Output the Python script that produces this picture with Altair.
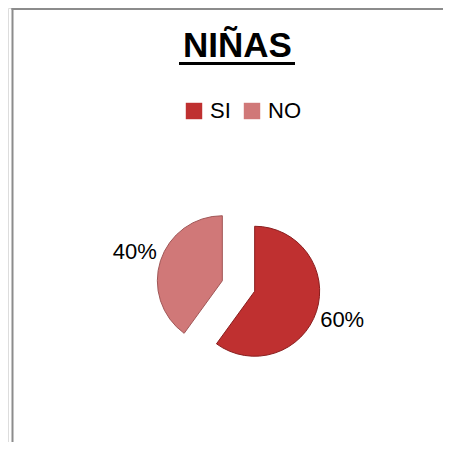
import altair as alt
import pandas as pd

# ---- data ----
categories = ["SI", "NO"]
values = [60, 40]
title_text = ["NIÑAS"]

fill_colors = ["#BF3030", "#D07878"]
edge_colors = ["#8A1E1E", "#A05656"]

W, H = 435, 434
CX, CY = 230.5, 278      # pie centre (chart coords)
R = 65                   # pie radius
EXPLODE = 17             # explode distance
LABEL_R = 92             # label distance from slice vertex
FONT = "Liberation Sans"

df = pd.DataFrame({"cat": categories, "value": values, "order": list(range(len(categories)))})

base = alt.Chart(df).transform_joinaggregate(
    total="sum(value)"
).transform_window(
    cum="sum(value)", sort=[alt.SortField("order")], frame=[None, 0]
).transform_calculate(
    start="(datum.cum - datum.value) / datum.total * 2 * PI",
    end="datum.cum / datum.total * 2 * PI",
).transform_calculate(
    mid="(datum.start + datum.end) / 2",
).transform_calculate(
    px=f"{CX} + {EXPLODE} * sin(datum.mid)",
    py=f"{CY} - {EXPLODE} * cos(datum.mid)",
    pct="format(datum.value / datum.total, '.0%')",
).transform_calculate(
    lx=f"datum.px + {LABEL_R} * sin(datum.mid)",
    ly=f"datum.py - {LABEL_R} * cos(datum.mid)",
)

arcs = base.mark_arc(radius=R, strokeWidth=1).encode(
    theta=alt.Theta("start:Q", scale=None),
    theta2="end:Q",
    x=alt.X("px:Q", scale=None, axis=None),
    y=alt.Y("py:Q", scale=None, axis=None),
    fill=alt.Fill(
        "cat:N",
        scale=alt.Scale(domain=categories, range=fill_colors),
        sort=categories,
        legend=alt.Legend(
            title=None,
            orient="none",
            legendX=175,
            legendY=92,
            direction="horizontal",
            symbolType="square",
            symbolSize=270,
            symbolStrokeWidth=0,
            symbolOpacity=1,
            labelFont=FONT,
            labelFontSize=22,
            labelColor="#000000",
            labelOffset=5,
            columnPadding=10,
        ),
    ),
    stroke=alt.Stroke("cat:N", scale=alt.Scale(domain=categories, range=edge_colors), legend=None),
)

labels = base.mark_text(font=FONT, fontSize=22, color="#000000", align="center", baseline="middle").encode(
    x=alt.X("lx:Q", scale=None, axis=None),
    y=alt.Y("ly:Q", scale=None, axis=None),
    text="pct:N",
)

title = alt.Chart(pd.DataFrame({"t": title_text})).mark_text(
    font=FONT, fontSize=35, fontWeight="bold", color="#000000", align="center", baseline="alphabetic"
).encode(x=alt.value(229.5), y=alt.value(49), text="t:N")

underline = alt.Chart(pd.DataFrame({"t": title_text})).mark_rule(color="#000000", strokeWidth=3).encode(
    x=alt.value(171), x2=alt.value(287), y=alt.value(55.5)
)

border_left = alt.Chart(pd.DataFrame({"t": [0]})).mark_rule(color="#8C8C8C", strokeWidth=2).encode(
    x=alt.value(4.5), y=alt.value(0), y2=alt.value(H)
)
border_top = alt.Chart(pd.DataFrame({"t": [0]})).mark_rule(color="#8C8C8C", strokeWidth=2).encode(
    x=alt.value(3.5), x2=alt.value(W), y=alt.value(1)
)

chart = alt.layer(border_left, border_top, title, underline, arcs, labels).properties(
    width=W, height=H, autosize=alt.AutoSizeParams(type="none"), padding=0
).configure_view(stroke=None).configure(background="#FFFFFF")

chart.save("out.html", embed_options={"renderer": "svg", "actions": False})
